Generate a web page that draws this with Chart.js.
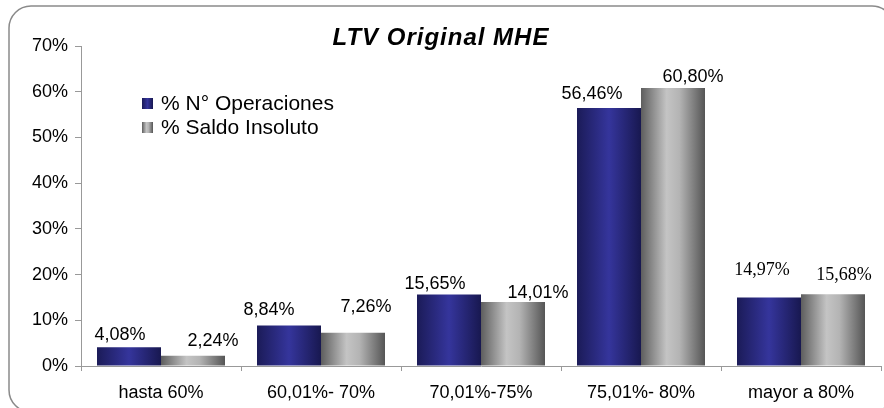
<!DOCTYPE html>
<html>
<head>
<meta charset="utf-8">
<script src="https://cdn.jsdelivr.net/npm/chart.js@4"></script>
<style>
  body { margin: 0; background: #fff; }
  #wrap { width: 884px; height: 408px; }
</style>
</head>
<body>
<div id="wrap"><canvas id="ltv" width="884" height="408"></canvas></div>
<script>
var categories = ['hasta 60%', '60,01%- 70%', '70,01%-75%', '75,01%- 80%', 'mayor a 80%'];
var operaciones = [4.08, 8.84, 15.65, 56.46, 14.97];
var saldo = [2.24, 7.26, 14.01, 60.80, 15.68];
var seriesNames = ['% N\u00b0 Operaciones', '% Saldo Insoluto'];
var chartTitle = 'LTV Original MHE';

// label nudges (dx, dy from bar top centre), the original labels were moved by hand
var labelNudge = [
  [[-9, -12], [-20, -16], [-14, -10], [-17, -14], [-7, -27]],
  [[20, -15], [13, -26], [25, -9], [20, -11], [11, -19]]
];

function fmt(v) {
  return v.toFixed(2).replace('.', ',') + '%';
}

function barGradient(ctx, x0, x1, kind) {
  var g = ctx.createLinearGradient(x0, 0, x1, 0);
  if (kind === 0) {
    g.addColorStop(0, '#1b1b58');
    g.addColorStop(0.5, '#35359c');
    g.addColorStop(1, '#181850');
  } else {
    g.addColorStop(0, '#5e5e5e');
    g.addColorStop(0.4, '#c4c4c4');
    g.addColorStop(0.6, '#b4b4b4');
    g.addColorStop(1, '#555555');
  }
  return g;
}

var decor = {
  id: 'decor',
  beforeDraw: function (chart) {
    var c = chart.ctx;
    c.save();
    c.strokeStyle = '#8a8a8a';
    c.lineWidth = 1.5;
    c.beginPath();
    c.roundRect(9, 6, 885, 406, 22);
    c.stroke();
    c.restore();
  },
  beforeDatasetsDraw: function (chart) {
    chart.data.datasets.forEach(function (ds, di) {
      chart.getDatasetMeta(di).data.forEach(function (el) {
        var p = el.getProps(['x', 'width'], true);
        el.options.backgroundColor = barGradient(chart.ctx, p.x - p.width / 2, p.x + p.width / 2, di);
      });
    });
  },
  afterDatasetsDraw: function (chart) {
    var c = chart.ctx;
    c.save();
    c.fillStyle = '#000';
    c.textAlign = 'center';
    c.textBaseline = 'middle';
    chart.data.datasets.forEach(function (ds, di) {
      chart.getDatasetMeta(di).data.forEach(function (el, i) {
        var n = labelNudge[di][i];
        c.font = (i === 4 ? '18px "Liberation Serif", serif' : '18px "Liberation Sans", Arial, sans-serif');
        c.fillText(fmt(ds.data[i]), el.x + n[0], el.y + n[1]);
      });
    });

    // title
    c.font = 'italic bold 24px "Liberation Sans", Arial, sans-serif';
    c.letterSpacing = '1px';
    c.fillText(chartTitle, 441, 38);
    c.letterSpacing = '0px';

    // legend inside the plot
    c.textAlign = 'left';
    c.font = '21px "Liberation Sans", Arial, sans-serif';
    var rows = [104, 128];
    rows.forEach(function (y, di) {
      c.fillStyle = barGradient(c, 142, 153, di);
      c.fillRect(142, y - 6, 11, 11);
      c.fillStyle = '#000';
      c.fillText(seriesNames[di], 161, y);
    });
    c.restore();
  }
};

var ctx = document.getElementById('ltv').getContext('2d');
var myChart = new Chart(ctx, {
  type: 'bar',
  data: {
    labels: categories,
    datasets: [{
      label: seriesNames[0],
      data: operaciones,
      backgroundColor: function () { return '#2a2a80'; },
      borderWidth: 0
    }, {
      label: seriesNames[1],
      data: saldo,
      backgroundColor: function () { return '#9a9a9a'; },
      borderWidth: 0
    }]
  },
  options: {
    responsive: false,
    animation: false,
    layout: {
      padding: { top: 46, left: 0, right: 3, bottom: 0 }
    },
    datasets: {
      bar: { categoryPercentage: 0.8, barPercentage: 1.0 }
    },
    plugins: {
      legend: { display: false },
      title: { display: false },
      tooltip: { enabled: false }
    },
    scales: {
      x: {
        afterFit: function (s) { s.height = 42; },
        grid: { drawOnChartArea: false, drawTicks: true, tickLength: 5, color: '#999' },
        border: { color: '#999' },
        ticks: {
          padding: 11,
          color: '#000',
          font: { family: '"Liberation Sans", Arial, sans-serif', size: 18 }
        }
      },
      y: {
        min: 0,
        max: 70,
        afterFit: function (s) { s.width = 81; },
        grid: { drawOnChartArea: false, drawTicks: true, tickLength: 6, color: '#999' },
        border: { color: '#999' },
        ticks: {
          stepSize: 10,
          padding: 7,
          color: '#000',
          font: { family: '"Liberation Sans", Arial, sans-serif', size: 18 },
          callback: function (v) { return v + '%'; }
        }
      }
    }
  },
  plugins: [decor]
});
</script>
</body>
</html>
